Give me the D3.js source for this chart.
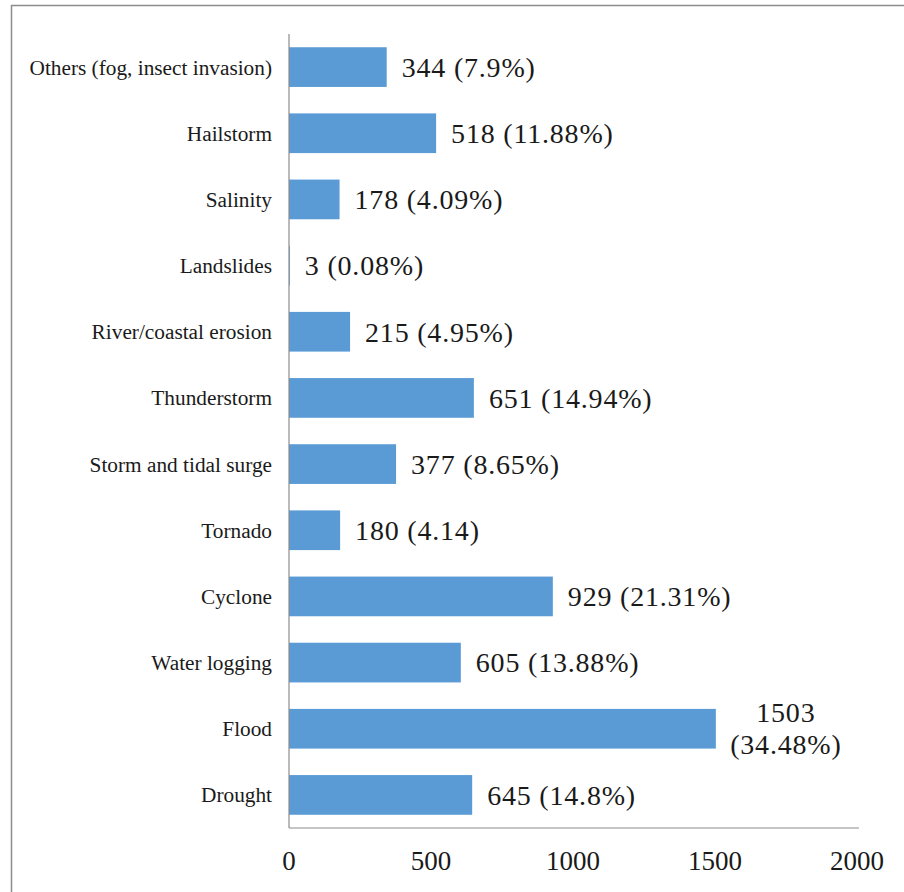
<!DOCTYPE html>
<html>
<head>
<meta charset="utf-8">
<script src="https://cdn.jsdelivr.net/npm/d3@7"></script>
<style>
  body { margin: 0; background: #fff; }
  svg text { font-family: 'Liberation Serif', 'Times New Roman', serif; }
</style>
</head>
<body>
<div id="app"></div>
<script>
'use strict'

// hazards, listed top to bottom
const categories = ['Others (fog, insect invasion)', 'Hailstorm', 'Salinity', 'Landslides',
  'River/coastal erosion', 'Thunderstorm', 'Storm and tidal surge', 'Tornado',
  'Cyclone', 'Water logging', 'Flood', 'Drought']
const counts = [344, 518, 178, 3, 215, 651, 377, 180, 929, 605, 1503, 645]
const shares = ['7.9%', '11.88%', '4.09%', '0.08%', '4.95%', '14.94%', '8.65%', '4.14', '21.31%', '13.88%', '34.48%', '14.8%']
const ticks = [0, 500, 1000, 1500, 2000]

const width = 904
const height = 892
const margin = { top: 34, left: 289, right: 47, bottom: 64 }

const svg = d3.select('#app').append('svg')
  .attr('width', width)
  .attr('height', height)

// outer frame (only left and top edges show)
svg.append('rect')
  .attr('x', 11.5).attr('y', 5.5)
  .attr('width', width + 20).attr('height', height + 20)
  .attr('fill', 'none')
  .attr('stroke', '#8c8c8c')
  .attr('stroke-width', 1.5)

const x = d3.scaleLinear()
  .domain([0, 2000])
  .range([margin.left, width - margin.right])

const y = d3.scaleBand()
  .domain(categories)
  .range([margin.top, height - margin.bottom])
  .paddingInner(0.4)
  .paddingOuter(0.2)

// bars
svg.selectAll('.bar')
  .data(categories)
  .enter().append('rect')
  .attr('class', 'bar')
  .attr('x', x(0))
  .attr('y', d => y(d))
  .attr('width', (d, i) => x(counts[i]) - x(0))
  .attr('height', y.bandwidth())
  .attr('fill', '#5b9bd5')

// axes lines
svg.append('line')
  .attr('x1', x(0)).attr('x2', x(0))
  .attr('y1', margin.top).attr('y2', height - margin.bottom)
  .attr('stroke', '#8c8c8c').attr('stroke-width', 1.2)

svg.append('line')
  .attr('x1', x(0)).attr('x2', x(2000) + 2)
  .attr('y1', height - margin.bottom).attr('y2', height - margin.bottom)
  .attr('stroke', '#8c8c8c').attr('stroke-width', 1.2)

// tick labels
svg.selectAll('.tick-label')
  .data(ticks)
  .enter().append('text')
  .attr('class', 'tick-label')
  .attr('x', d => x(d))
  .attr('y', height - margin.bottom + 42)
  .attr('text-anchor', 'middle')
  .style('font-size', '27px')
  .style('fill', '#1a1a1a')
  .text(d => d)

// category labels
svg.selectAll('.cat')
  .data(categories)
  .enter().append('text')
  .attr('class', 'cat')
  .attr('x', x(0) - 17)
  .attr('y', d => y(d) + y.bandwidth() / 2)
  .attr('dy', '0.35em')
  .attr('text-anchor', 'end')
  .style('font-size', '21.3px')
  .style('fill', '#1a1a1a')
  .text(d => d)

// value labels; Flood wraps onto two lines
const vals = svg.selectAll('.val')
  .data(categories)
  .enter().append('text')
  .attr('class', 'val')
  .attr('y', d => y(d) + y.bandwidth() / 2)
  .style('font-size', '28px')
  .style('letter-spacing', '0.8px')
  .style('fill', '#1a1a1a')

vals.each(function(d, i) {
  const t = d3.select(this)
  if (d === 'Flood') {
    const cx = x(counts[i]) + 70
    t.attr('text-anchor', 'middle')
    t.append('tspan').attr('x', cx).attr('dy', '-0.25em').text(counts[i])
    t.append('tspan').attr('x', cx).attr('dy', '1.15em').text(`(${shares[i]})`)
  } else {
    t.attr('x', x(counts[i]) + 15)
      .attr('dy', '0.35em')
      .text(`${counts[i]} (${shares[i]})`)
  }
})
</script>
</body>
</html>
